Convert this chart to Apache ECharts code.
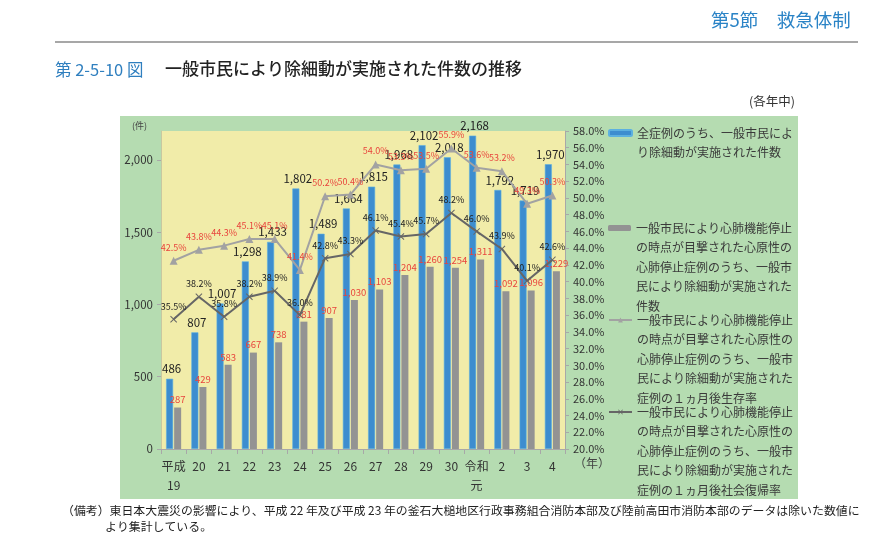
<!DOCTYPE html>
<html>
<head>
<meta charset="utf-8">
<script src="https://cdn.jsdelivr.net/npm/echarts@6/dist/echarts.min.js"></script>
<style>
html,body{margin:0;padding:0;background:#fff;}
#chart{width:885px;height:538px;}
</style>
</head>
<body>
<div id="chart"></div>
<script>
const categories = ['平成\n19','20','21','22','23','24','25','26','27','28','29','30','令和\n元','2','3','4'];
const totalCases = [486, 807, 1007, 1298, 1433, 1802, 1489, 1664, 1815, 1968, 2102, 2018, 2168, 1792, 1719, 1970];
const witnessedCases = [287, 429, 583, 667, 738, 881, 907, 1030, 1103, 1204, 1260, 1254, 1311, 1092, 1096, 1229];
const survivalRate = [42.5, 43.8, 44.3, 45.1, 45.1, 41.4, 50.2, 50.4, 54.0, 53.3, 53.5, 55.9, 53.6, 53.2, 49.3, 50.3];
const socialReturnRate = [35.5, 38.2, 35.8, 38.2, 38.9, 36.0, 42.8, 43.3, 46.1, 45.4, 45.7, 48.2, 46.0, 43.9, 40.1, 42.6];

const seriesNames = [
  '全症例のうち、一般市民によ\nり除細動が実施された件数',
  '一般市民により心肺機能停止\nの時点が目撃された心原性の\n心肺停止症例のうち、一般市\n民により除細動が実施された\n件数',
  '一般市民により心肺機能停止\nの時点が目撃された心原性の\n心肺停止症例のうち、一般市\n民により除細動が実施された\n症例の１ヵ月後生存率',
  '一般市民により心肺機能停止\nの時点が目撃された心原性の\n心肺停止症例のうち、一般市\n民により除細動が実施された\n症例の１ヵ月後社会復帰率'
];

const FONT = '"Noto Sans CJK JP","Noto Sans",sans-serif';
const LH = 19.5;
const fmtNum = v => Number(v).toLocaleString('en-US');
const fmtPct = v => Number(v).toFixed(1) + '%';
const xPath = 'path://M0,1L1,0L5,4L9,0L10,1L6,5L10,9L9,10L5,6L1,10L0,9L4,5Z';

function legendAt(name, firstLineY) {
  const n = name.split('\n').length;
  return {
    data: [name],
    orient: 'vertical',
    left: 608,
    top: firstLineY - (2 * n - 1) * LH / 2,
    padding: 0,
    itemWidth: 23,
    itemHeight: 6,
    selectedMode: false,
    formatter: nm => '\n'.repeat(n - 1) + nm,
    textStyle: {fontFamily: FONT, fontSize: 12, color: '#3a3a3a', lineHeight: LH}
  };
}

const chart = echarts.init(document.getElementById('chart'), null, {renderer: 'canvas'});
chart.setOption({
  animation: false,
  textStyle: {fontFamily: FONT},
  graphic: [
    {type: 'rect', z: -100, shape: {x: 120, y: 116, width: 678, height: 383}, style: {fill: '#b5dcb1'}},
    {type: 'text', left: 711, top: 11, style: {text: '第5節　救急体制', font: '18.5px ' + FONT, fill: '#2a83c6'}},
    {type: 'line', shape: {x1: 55, y1: 42, x2: 858, y2: 42}, style: {stroke: '#8a8a8a', lineWidth: 1.5}},
    {type: 'text', left: 55, top: 61, style: {text: '第 2-5-10 図', font: '16.5px ' + FONT, fill: '#2f7fbf'}},
    {type: 'text', left: 165, top: 60, style: {text: '一般市民により除細動が実施された件数の推移', font: '500 17px ' + FONT, fill: '#222'}},
    {type: 'text', left: 749, top: 95, style: {text: '(各年中)', font: '12.5px ' + FONT, fill: '#333'}},
    {type: 'text', left: 132, top: 121, style: {text: '(件)', font: '9px ' + FONT, fill: '#444'}},
    {type: 'text', left: 574, top: 457, style: {text: '（年）', font: '12px ' + FONT, fill: '#444'}},
    {type: 'text', left: 62, top: 505, style: {text: '（備考）東日本大震災の影響により、平成 22 年及び平成 23 年の釜石大槌地区行政事務組合消防本部及び陸前高田市消防本部のデータは除いた数値に', font: '11.9px ' + FONT, fill: '#222'}},
    {type: 'text', left: 105, top: 521, style: {text: 'より集計している。', font: '11.9px ' + FONT, fill: '#222'}}
  ],
  legend: [
    legendAt(seriesNames[0], 133),
    legendAt(seriesNames[1], 228),
    legendAt(seriesNames[2], 320),
    legendAt(seriesNames[3], 412)
  ],
  grid: {
    left: 161, right: 320, top: 131, bottom: 89,
    show: true, backgroundColor: '#f1eca9', borderWidth: 0
  },
  xAxis: {
    type: 'category',
    data: categories,
    boundaryGap: true,
    axisLine: {lineStyle: {color: '#a8a8a8'}},
    axisTick: {show: true, length: 5, lineStyle: {color: '#a8a8a8'}},
    axisLabel: {fontSize: 12, color: '#333', lineHeight: 19, margin: 8, interval: 0}
  },
  yAxis: [
    {
      type: 'value', min: 0, max: 2200, interval: 500,
      splitLine: {show: false},
      axisLine: {show: true, lineStyle: {color: '#c8c8a0'}},
      axisTick: {show: true, length: 4, lineStyle: {color: '#a8a8a8'}},
      axisLabel: {fontSize: 11.5, color: '#333', formatter: v => fmtNum(v), showMaxLabel: false, margin: 8}
    },
    {
      type: 'value', min: 20, max: 58, interval: 2, position: 'right',
      splitLine: {show: false},
      axisLine: {show: true, lineStyle: {color: '#a8a8a8'}},
      axisTick: {show: true, length: 4, lineStyle: {color: '#a8a8a8'}},
      axisLabel: {fontSize: 11, color: '#333', formatter: v => fmtPct(v), margin: 8}
    }
  ],
  series: [
    {
      name: seriesNames[0], type: 'bar', data: totalCases,
      barWidth: 7, barGap: '15%',
      itemStyle: {color: '#3d8dcf', borderColor: '#5cb0e0', borderWidth: 0.6},
      label: {show: true, position: 'top', distance: 4, offset: [2, 0], fontSize: 11.5, color: '#222', formatter: p => fmtNum(p.value)},
      z: 2
    },
    {
      name: seriesNames[1], type: 'bar', data: witnessedCases,
      barWidth: 7,
      itemStyle: {color: '#939393'},
      label: {show: true, position: 'top', distance: 3, fontSize: 9.5, color: '#e8443c', formatter: p => fmtNum(p.value)},
      z: 2
    },
    {
      name: seriesNames[2], type: 'line', yAxisIndex: 1, data: survivalRate,
      symbol: 'triangle', symbolSize: 8,
      lineStyle: {color: '#a2a2a2', width: 2},
      itemStyle: {color: '#a2a2a2'},
      label: {show: true, position: 'top', distance: 5, fontSize: 9, color: '#e8443c', formatter: p => fmtPct(p.value)},
      z: 5
    },
    {
      name: seriesNames[3], type: 'line', yAxisIndex: 1, data: socialReturnRate,
      symbol: xPath, symbolSize: 7,
      lineStyle: {color: '#666666', width: 2},
      itemStyle: {color: '#666666'},
      label: {show: true, position: 'top', distance: 5, fontSize: 9, color: '#222', formatter: p => fmtPct(p.value)},
      z: 5
    }
  ]
});
</script>
</body>
</html>
